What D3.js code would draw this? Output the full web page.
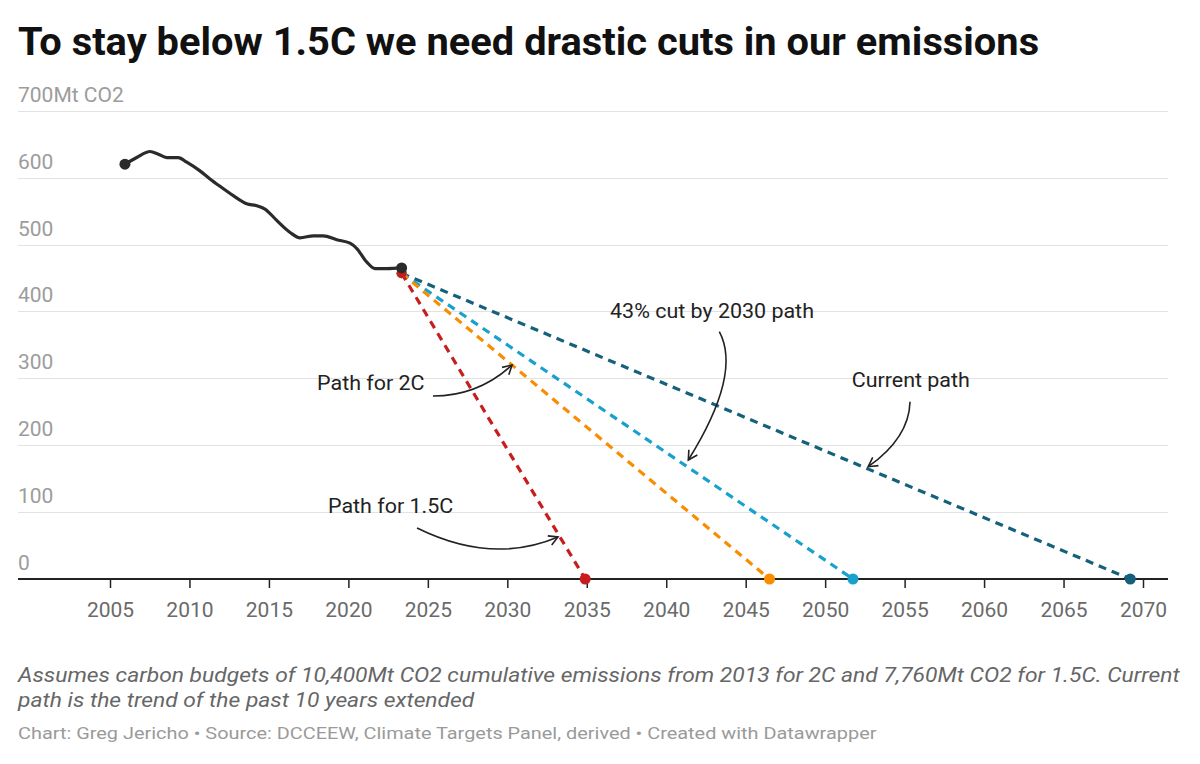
<!DOCTYPE html>
<html>
<head>
<meta charset="utf-8">
<script src="https://cdn.jsdelivr.net/npm/d3@7"></script>
<style>
	body { margin: 0; background: #fff; }
	svg { display: block; font-family: Roboto, sans-serif; }
</style>
</head>
<body>
<div id="chart"></div>
<script>
const hist_years = [2005.94, 2006.68, 2007.52, 2008.04, 2008.57, 2009.30, 2009.83, 2010.66, 2011.29, 2011.92,
	2012.76, 2013.60, 2014.23, 2014.75, 2015.49, 2016.33, 2016.96, 2017.80, 2018.42, 2019.27,
	2020.10, 2020.53, 2021.15, 2021.68, 2022.40, 2023.35];
const hist_values = [620, 630, 639, 635, 630, 630, 623, 610, 598, 587,
	573, 561, 558, 553, 536, 518, 510, 513, 513, 507,
	502, 494, 474, 464, 464, 465];

const path_names = ["Current path", "43% cut by 2030 path", "Path for 2C", "Path for 1.5C"];
const path_start = [2023.35, 457];
const path_end_years = [2069.2, 2051.75, 2046.5, 2034.9];
const path_colors = ["#15607a", "#18a1cd", "#fa8c00", "#c71e1d"];

const x_ticks = d3.range(2005, 2071, 5);
const y_ticks = [0, 100, 200, 300, 400, 500, 600, 700];

// label text, label point, arrow start / control / end (year, Mt)
const notes = [
	{ text: "Path for 2C", at: [2018.03, 282.5], anchor: "start", arrow: [[2025.32, 273.5], [2028.16, 273.5], [2030.30, 319.9]] },
	{ text: "Path for 1.5C", at: [2018.72, 98.2], anchor: "start", arrow: [[2024.32, 76.2], [2029.04, 20.9], [2033.19, 62.8]] },
	{ text: "43% cut by 2030 path", at: [2042.88, 389.7], anchor: "middle", arrow: [[2043.34, 369.7], [2044.77, 306.4], [2041.39, 177.9]] },
	{ text: "Current path", at: [2051.67, 287.4], anchor: "start", arrow: [[2055.34, 265.0], [2055.28, 210.8], [2052.71, 167.9]] }
];

const W = 1200, H = 764;
const left = 18, right = 1168;

// the reference type runs a bit wider than Roboto, so squash it out sideways
function stretch(sel, sx) {
	sel.each(function() {
		const t = d3.select(this);
		const tx = +t.attr('x'), ty = +t.attr('y');
		t.attr('x', 0).attr('y', 0)
			.attr('transform', `translate(${tx},${ty}) scale(${sx},1)`);
	});
}

const svg = d3.select('#chart').append('svg')
	.attr('width', W)
	.attr('height', H);

svg.append('defs')
	.append('marker')
	.attr('id', 'arrowhead')
	.attr('markerUnits', 'userSpaceOnUse')
	.attr('markerWidth', 14)
	.attr('markerHeight', 14)
	.attr('refX', 10)
	.attr('refY', 6)
	.attr('orient', 'auto')
	.append('path')
	.attr('d', 'M1,1 L10,6 L1,11')
	.attr('fill', 'none')
	.attr('stroke', '#222')
	.attr('stroke-width', 1.6);

svg.append('text')
	.attr('x', 18)
	.attr('y', 55)
	.attr('font-size', 38.5)
	.attr('font-weight', 700)
	.attr('fill', '#111')
	.text("To stay below 1.5C we need drastic cuts in our emissions")
	.call(stretch, 1.035);

const x = d3.scaleLinear()
	.domain([2005, 2070])
	.range([110, 1143]);

const y = d3.scaleLinear()
	.domain([0, 700])
	.range([579, 110.7]);

const grid = svg.append('g');

grid.selectAll('line')
	.data(y_ticks.filter(d => d > 0))
	.enter().append('line')
	.attr('x1', left)
	.attr('x2', right)
	.attr('y1', d => Math.round(y(d)) + 0.5)
	.attr('y2', d => Math.round(y(d)) + 0.5)
	.attr('stroke', '#e2e2e2')
	.attr('stroke-width', 1.2);

grid.selectAll('text')
	.data(y_ticks)
	.enter().append('text')
	.attr('x', left)
	.attr('y', d => y(d) - 9)
	.attr('font-size', 21)
	.attr('fill', '#9c9c9c')
	.text(d => d === 700 ? "700Mt CO2" : d);

const xaxis = svg.append('g')
	.attr('transform', `translate(0, ${y(0)})`)
	.call(d3.axisBottom(x).tickValues(x_ticks).tickFormat(d3.format('d')).tickSize(9).tickPadding(14));

xaxis.select('.domain').remove();
xaxis.selectAll('.tick line')
	.attr('stroke', '#222')
	.attr('stroke-width', 1.5);
xaxis.selectAll('.tick text')
	.attr('font-size', 21)
	.attr('font-family', 'Roboto, sans-serif')
	.attr('fill', '#6a6a6a');

xaxis.append('line')
	.attr('x1', left)
	.attr('x2', right)
	.attr('stroke', '#222')
	.attr('stroke-width', 2);

const paths = path_end_years.map((e, i) => ({
	name: path_names[i],
	color: path_colors[i],
	pts: [path_start, [e, 0]]
}));

const line = d3.line()
	.x(d => x(d[0]))
	.y(d => y(d[1]));

const pg = svg.append('g');

pg.selectAll('path')
	.data(paths)
	.enter().append('path')
	.attr('d', d => line(d.pts))
	.attr('fill', 'none')
	.attr('stroke', d => d.color)
	.attr('stroke-width', 3.2)
	.attr('stroke-dasharray', '8,6');

pg.selectAll('circle.start')
	.data(paths)
	.enter().append('circle')
	.attr('class', 'start')
	.attr('cx', d => x(d.pts[0][0]))
	.attr('cy', d => y(d.pts[0][1]))
	.attr('r', 5)
	.attr('fill', d => d.color);

pg.selectAll('circle.end')
	.data(paths)
	.enter().append('circle')
	.attr('class', 'end')
	.attr('cx', d => x(d.pts[1][0]))
	.attr('cy', d => y(d.pts[1][1]))
	.attr('r', 5.5)
	.attr('fill', d => d.color);

const hist = hist_years.map((yr, i) => [yr, hist_values[i]]);

svg.append('path')
	.datum(hist)
	.attr('d', line.curve(d3.curveMonotoneX))
	.attr('fill', 'none')
	.attr('stroke', '#2b2b2b')
	.attr('stroke-width', 3.2)
	.attr('stroke-linejoin', 'round');

svg.selectAll('circle.hist')
	.data([hist[0], hist[hist.length - 1]])
	.enter().append('circle')
	.attr('class', 'hist')
	.attr('cx', d => x(d[0]))
	.attr('cy', d => y(d[1]))
	.attr('r', 5.5)
	.attr('fill', '#2b2b2b');

const ng = svg.append('g');

ng.selectAll('text')
	.data(notes)
	.enter().append('text')
	.attr('x', d => x(d.at[0]))
	.attr('y', d => y(d.at[1]))
	.attr('text-anchor', d => d.anchor)
	.attr('font-size', 19.5)
	.attr('fill', '#222')
	.text(d => d.text)
	.call(stretch, 1.1);

ng.selectAll('path')
	.data(notes)
	.enter().append('path')
	.attr('d', d => {
		const [a, c, b] = d.arrow;
		return `M${x(a[0])},${y(a[1])} Q${x(c[0])},${y(c[1])} ${x(b[0])},${y(b[1])}`;
	})
	.attr('fill', 'none')
	.attr('stroke', '#222')
	.attr('stroke-width', 1.6)
	.attr('marker-end', 'url(#arrowhead)');

const foot = svg.append('g');

foot.append('text')
	.attr('x', 18)
	.attr('y', 682)
	.attr('font-size', 19.5)
	.attr('font-style', 'italic')
	.attr('fill', '#666')
	.text("Assumes carbon budgets of 10,400Mt CO2 cumulative emissions from 2013 for 2C and 7,760Mt CO2 for 1.5C. Current")
	.call(stretch, 1.17);

foot.append('text')
	.attr('x', 18)
	.attr('y', 707)
	.attr('font-size', 19.5)
	.attr('font-style', 'italic')
	.attr('fill', '#666')
	.text("path is the trend of the past 10 years extended")
	.call(stretch, 1.17);

foot.append('text')
	.attr('x', 18)
	.attr('y', 739)
	.attr('font-size', 17)
	.attr('fill', '#9a9a9a')
	.text("Chart: Greg Jericho • Source: DCCEEW, Climate Targets Panel, derived • Created with Datawrapper")
	.call(stretch, 1.17);
</script>
</body>
</html>
